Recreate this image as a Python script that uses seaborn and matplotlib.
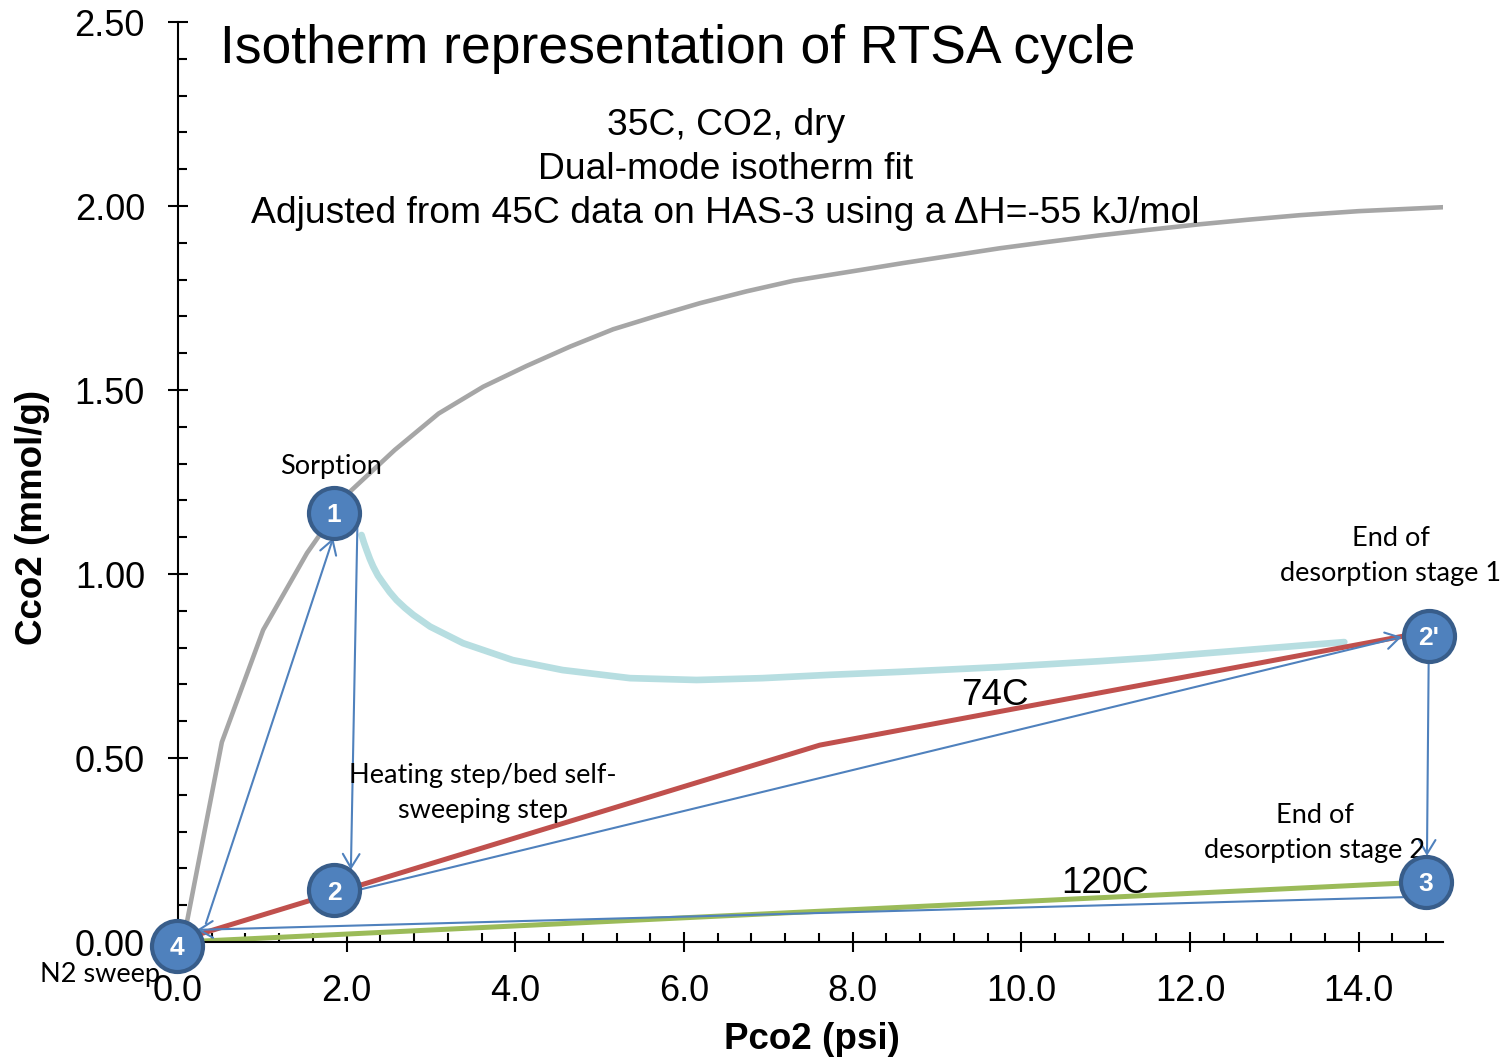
import matplotlib
matplotlib.use("Agg")
import matplotlib.pyplot as plt
import seaborn as sns
from matplotlib.ticker import MultipleLocator

# ---------------- data ----------------
# 35C dual-mode isotherm (grey)
iso35_x = [0.06, 0.52, 1.01, 1.53, 2.04, 2.57, 3.09, 3.62, 4.13, 4.65, 5.16,
           5.67, 6.19, 6.74, 7.30, 8.09, 8.6, 9.2, 9.74, 10.3, 10.92, 11.5,
           12.1, 12.7, 13.3, 14.0, 15.03]
iso35_y = [0.0, 0.543, 0.848, 1.057, 1.224, 1.337, 1.436, 1.509, 1.565, 1.618,
           1.665, 1.701, 1.736, 1.768, 1.797, 1.826, 1.845, 1.866, 1.885,
           1.902, 1.92, 1.935, 1.95, 1.963, 1.975, 1.986, 1.997]

# self-sweeping path (light blue)
sweep_x = [2.176, 2.205, 2.236, 2.275, 2.315, 2.37, 2.434, 2.51, 2.592, 2.69,
           2.79, 2.99, 3.38, 3.97, 4.56, 5.36, 6.15, 6.93, 7.73, 8.55, 9.74,
           10.92, 11.52, 12.1, 13.83]
sweep_y = [1.106, 1.085, 1.065, 1.041, 1.020, 0.996, 0.975, 0.951, 0.929,
           0.908, 0.889, 0.857, 0.812, 0.766, 0.739, 0.717, 0.712, 0.717,
           0.726, 0.734, 0.747, 0.763, 0.772, 0.783, 0.815]

# 74C isotherm (red)
iso74_x = [0.05, 7.61, 14.55]
iso74_y = [0.007, 0.535, 0.832]

# 120C isotherm (green)
iso120_x = [0.05, 14.7]
iso120_y = [0.0, 0.162]

# cycle state points
node_labels = ["1", "2", "2'", "3", "4"]
node_x = [1.85, 1.85, 14.83, 14.80, -0.01]
node_y = [1.166, 0.14, 0.832, 0.164, -0.01]

# cycle step arrows (tail -> head)
arrow_tail_x = [0.33, 2.13, 2.13, 14.83, 14.56]
arrow_tail_y = [0.05, 1.166, 0.141, 0.764, 0.122]
arrow_head_x = [1.84, 2.05, 14.51, 14.81, 0.225]
arrow_head_y = [1.098, 0.196, 0.829, 0.234, 0.033]

x_ticks = [0, 2, 4, 6, 8, 10, 12, 14]
x_tick_labels = ["0.0", "2.0", "4.0", "6.0", "8.0", "10.0", "12.0", "14.0"]
y_ticks = [0.0, 0.5, 1.0, 1.5, 2.0, 2.5]
y_tick_labels = ["0.00", "0.50", "1.00", "1.50", "2.00", "2.50"]

title_text = "Isotherm representation of RTSA cycle"
subtitle_lines = ["35C, CO2, dry", "Dual-mode isotherm fit",
                  "Adjusted from 45C data on HAS-3 using a \u0394H=-55 kJ/mol"]

# ---------------- style ----------------
sns.set_style("ticks")
plt.rcParams['font.family'] = ['Liberation Sans', 'DejaVu Sans']
plt.rcParams['text.color'] = 'black'
plt.rcParams['axes.labelcolor'] = 'black'
CAL = ['Lato', 'DejaVu Sans']

GREY = "#A6A6A6"
LBLUE = "#B7DEE1"
RED = "#C0504D"
GREEN = "#9BBB59"
BLUE = "#4F81BD"
EDGE = "#385D8A"

fig = plt.figure(figsize=(15.08, 10.6), dpi=100)
ax = fig.add_axes([178 / 1508, 1 - 942 / 1060, 1265 / 1508, 920 / 1060])

sns.lineplot(x=iso35_x, y=iso35_y, color=GREY, lw=3.3, sort=False,
             estimator=None, ax=ax, zorder=2)
sns.lineplot(x=sweep_x, y=sweep_y, color=LBLUE, lw=4.8, sort=False,
             estimator=None, ax=ax, zorder=2, solid_joinstyle="round")
sns.lineplot(x=iso74_x, y=iso74_y, color=RED, lw=3.6, sort=False,
             estimator=None, ax=ax, zorder=2)
sns.lineplot(x=iso120_x, y=iso120_y, color=GREEN, lw=3.6, sort=False,
             estimator=None, ax=ax, zorder=2)

for tx, ty, hx, hy in zip(arrow_tail_x, arrow_tail_y, arrow_head_x, arrow_head_y):
    ax.annotate("", xy=(hx, hy), xytext=(tx, ty),
                arrowprops=dict(arrowstyle="->,head_length=0.5,head_width=0.3",
                                color=BLUE, lw=1.5, mutation_scale=20,
                                shrinkA=0, shrinkB=0),
                annotation_clip=False, zorder=3)

sns.scatterplot(x=node_x, y=node_y, s=1350, color=BLUE, edgecolor=EDGE,
                linewidth=3.0, ax=ax, zorder=4, clip_on=False, legend=False)
for lab, nx, ny in zip(node_labels, node_x, node_y):
    ax.text(nx, ny, lab, color="white", fontsize=19, fontweight="bold",
            ha="center", va="center_baseline", zorder=5, clip_on=False)

# axes
ax.set_xlim(0, 15)
ax.set_ylim(0, 2.5)
sns.despine(ax=ax)
for s in ["left", "bottom"]:
    ax.spines[s].set_linewidth(1.5)
    ax.spines[s].set_color("black")
ax.set_xticks(x_ticks, x_tick_labels)
ax.set_yticks(y_ticks, y_tick_labels)
ax.xaxis.set_minor_locator(MultipleLocator(0.4))
ax.yaxis.set_minor_locator(MultipleLocator(0.1))
ax.tick_params(which="major", direction="inout", length=14, width=1.5,
               labelsize=26, colors="black")
ax.tick_params(axis="x", which="major", pad=16)
ax.tick_params(axis="y", which="major", pad=16.8)
ax.tick_params(which="minor", direction="in", length=6.5, width=1.5,
               colors="black")

ax.set_xlabel("Pco2 (psi)", fontsize=26.5, fontweight="bold")
ax.set_ylabel("Cco2 (mmol/g)", fontsize=26.5, fontweight="bold")
ax.xaxis.set_label_coords(0.501, -0.087)
ax.yaxis.set_label_coords(-0.101, 0.462)

# texts
ax.text(0.498, 2.389, title_text, fontsize=38.5, ha="left", va="baseline")
for line, yb in zip(subtitle_lines, [2.193, 2.073, 1.954]):
    ax.text(6.493, yb, line, fontsize=26.8, ha="center", va="baseline")

ax.text(1.813, 1.293, "Sorption", family=CAL, fontsize=19.5,
        ha="center", va="center")
ax.text(3.614, 0.405, "Heating step/bed self-\nsweeping step", family=CAL,
        fontsize=19.5, ha="center", va="center", linespacing=1.5)
ax.text(14.38, 1.049, "End of\ndesorption stage 1", family=CAL,
        fontsize=19.5, ha="center", va="center", linespacing=1.5)
ax.text(13.48, 0.296, "End of\ndesorption stage 2", family=CAL,
        fontsize=19.5, ha="center", va="center", linespacing=1.5, zorder=3)
ax.text(-0.93, -0.089, "N2 sweep", family=CAL, fontsize=19.5,
        ha="center", va="center", clip_on=False)
ax.text(9.69, 0.671, "74C", fontsize=26.5, ha="center", va="center")
ax.text(10.995, 0.158, "120C", fontsize=26.5, ha="center", va="center")

fig.savefig("out.png", dpi=100)
